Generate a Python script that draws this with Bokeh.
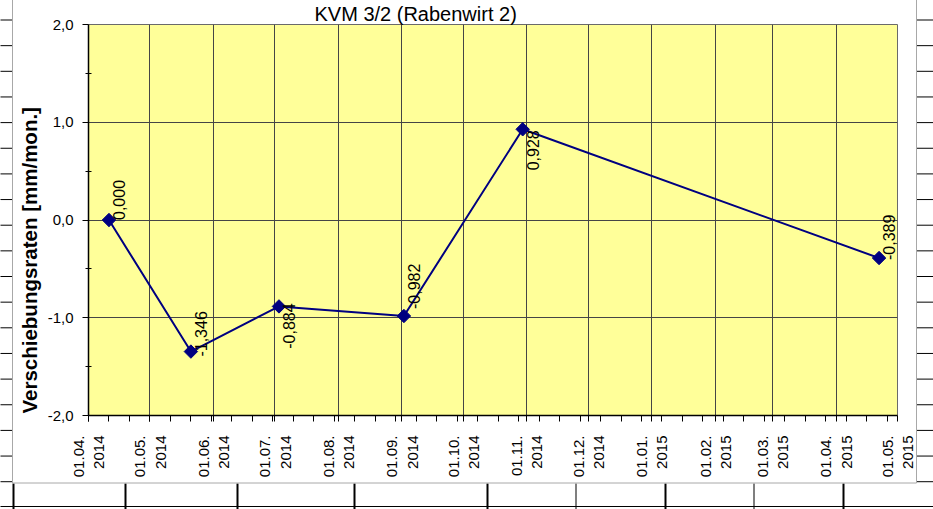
import math
import pandas as pd
from bokeh.plotting import figure
from bokeh.models import (FixedTicker, DatetimeTickFormatter, CustomJSTickFormatter,
                          Title, ColumnDataSource, Range1d)
from bokeh.core.properties import value, field
from bokeh.embed import file_html
from bokeh.resources import INLINE

# ---------------- data ----------------
dates = ["2014-04-11", "2014-05-21", "2014-07-03", "2014-09-02", "2014-10-30", "2015-04-22"]
rates = [0.000, -1.346, -0.884, -0.982, 0.928, -0.389]
rate_labels = ["0,000", "-1,346", "-0,884", "-0,982", "0,928", "-0,389"]
# label placement (style): text direction side and small screen nudge
label_side = ["left", "left", "right", "left", "right", "left"]
label_nudge = [0, 5, -3, -7, 1, 2]
x_start, x_end = "2014-04-01", "2015-05-01"
y_ticks = [-2, -1, 0, 1, 2]
y_minor = [-1.5, -0.5, 0.5, 1.5]
title_text = "KVM 3/2 (Rabenwirt 2)"
y_title = "Verschiebungsraten [mm/mon.]"

FONT = "Liberation Sans"
NAVY = "#000080"

def ms(ts):
    return pd.Timestamp(ts).value // 10**6

major_ticks = [ms(t) for t in pd.date_range(x_start, x_end, freq="MS")]
minor_ticks = [ms(t) for t in pd.date_range(x_start, x_end, freq="10D")]

src = ColumnDataSource(dict(
    x=[pd.Timestamp(d) for d in dates],
    y=rates,
    label=rate_labels,
    align=label_side,
    nudge=label_nudge,
))

W, H = 933, 509
FL, FR, FT, FB = 88, 897, 24, 415   # frame edges on the canvas
p = figure(width=W, height=H, x_axis_type="datetime",
           x_range=Range1d(pd.Timestamp(x_start), pd.Timestamp(x_end)),
           y_range=Range1d(-2, 2),
           output_backend="svg", toolbar_location=None,
           min_border_left=FL, min_border_right=W - FR, min_border_top=FT, min_border_bottom=H - FB,
           background_fill_color="#FFFF99", border_fill_color="white")
p.outline_line_color = "#6a6a6a"
p.outline_line_width = 1

# title (above)
p.title = Title(text=title_text, align="left", offset=226, standoff=0,
                text_font=FONT, text_font_size="20px", text_font_style="normal",
                text_color="black")

# x axis
xa = p.xaxis[0]
xa.ticker = FixedTicker(ticks=major_ticks, minor_ticks=minor_ticks)
fmt = "%d.%m.\n%Y"
xa.formatter = DatetimeTickFormatter(microseconds=fmt, milliseconds=fmt, seconds=fmt, minsec=fmt,
                                     minutes=fmt, hourmin=fmt, hours=fmt, days=fmt, months=fmt,
                                     years=fmt, context=None)
xa.major_label_orientation = math.pi / 2
xa.major_tick_out = 6
xa.major_tick_in = 0
xa.minor_tick_out = 6
xa.minor_tick_in = 0
xa.major_label_standoff = 14
xa.major_label_text_font = FONT
xa.major_label_text_font_size = "15px"
xa.major_label_text_color = "black"
xa.axis_line_color = "black"
xa.axis_line_width = 1.5
xa.major_tick_line_color = "black"
xa.minor_tick_line_color = "black"

# y axis
ya = p.yaxis[0]
ya.ticker = FixedTicker(ticks=y_ticks, minor_ticks=y_minor)
ya.formatter = CustomJSTickFormatter(code="return tick.toFixed(1).replace('.', ',');")
ya.major_tick_out = 6
ya.major_tick_in = 0
ya.minor_tick_out = 3
ya.minor_tick_in = 3
ya.major_label_standoff = 9
ya.major_label_text_font = FONT
ya.major_label_text_font_size = "15px"
ya.major_label_text_color = "black"
ya.axis_line_color = "black"
ya.axis_line_width = 1.5
ya.major_tick_line_color = "black"
ya.minor_tick_line_color = "black"

p.xgrid.grid_line_color = "#454545"
p.ygrid.grid_line_color = "#454545"

# y axis title (left panel)
p.add_layout(Title(text=y_title, align="left", offset=2, standoff=7,
                   text_font=FONT, text_font_size="20.5px", text_font_style="bold",
                   text_color="black"), "left")

# series
p.line(x="x", y="y", source=src, line_color=NAVY, line_width=2)
p.scatter(x="x", y="y", source=src, marker="square", angle=math.pi / 4, size=9.5,
          fill_color=NAVY, line_color=NAVY)
p.text(x="x", y="y", text="label", source=src, angle=math.pi / 2,
       text_align=field("align"), text_baseline="middle", x_offset=10, y_offset=field("nudge"),
       text_font=value(FONT), text_font_size=value("16px"), text_color="black")

# surrounding worksheet frame (decoration), drawn in canvas-pixel ranges
p.extra_x_ranges = {"px": Range1d(FL, FR)}
p.extra_y_ranges = {"px": Range1d(FB, FT)}
rows = [19 + 25.65 * k for k in range(19)]
L, R, T, B = [], [], [], []
for yy in rows:
    L += [0, 916]; R += [12, 933]; T += [yy, yy]; B += [yy + 1, yy + 1]
for xx in [12, 124, 236, 353, 486, 664, 842]:
    L.append(xx); R.append(xx + 2); T.append(483); B.append(509)
for xx in [575, 753]:
    L.append(xx); R.append(xx + 1); T.append(483); B.append(509)
L.append(0); R.append(933); T.append(505.5); B.append(506.5)
p.quad(left=L, right=R, top=T, bottom=B, x_range_name="px", y_range_name="px",
       fill_color="black", line_color=None, level="overlay")
p.quad(left=[12], right=[916], top=[-5], bottom=[482.5], x_range_name="px",
       y_range_name="px", fill_alpha=0, line_color="#a8a8a8", line_width=1,
       level="overlay")

open("out.html", "w").write(file_html(p, INLINE))
